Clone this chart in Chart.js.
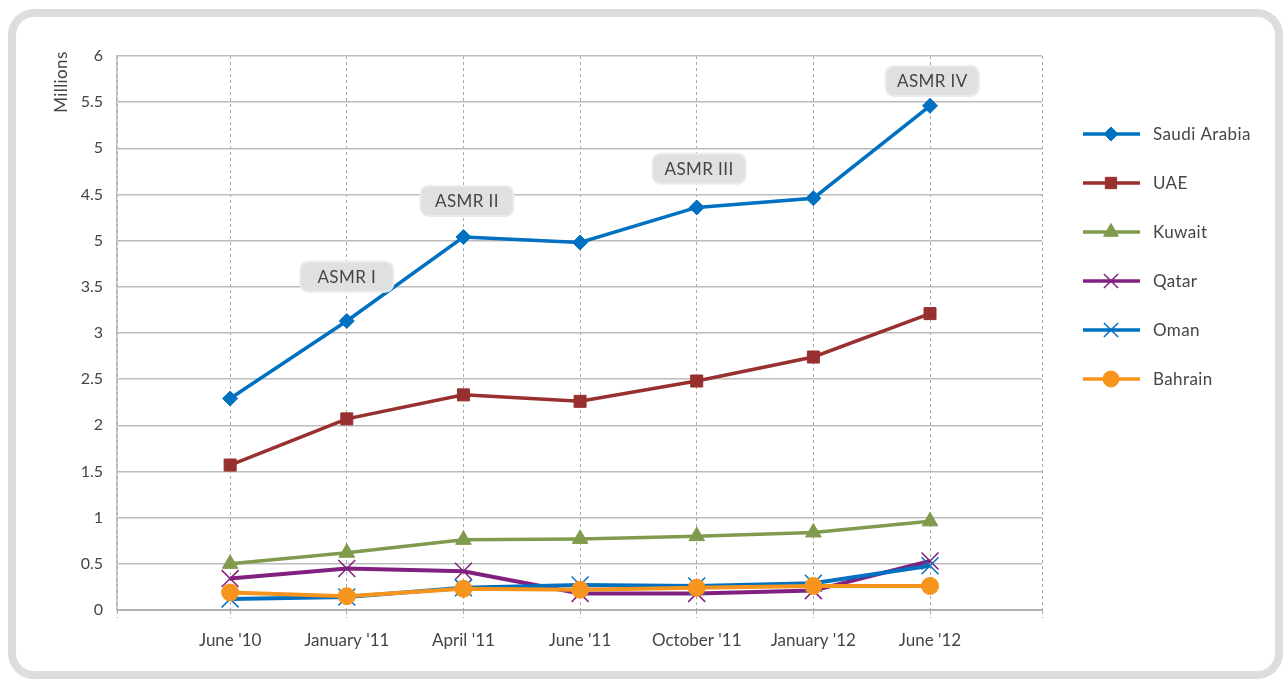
<!DOCTYPE html>
<html lang="en">
<head>
  <meta charset="UTF-8">
  <title>GCC users - ASMR</title>
  <script src="https://cdn.jsdelivr.net/npm/chart.js"></script>
  <style>
    html, body { margin: 0; padding: 0; background: #fff; }
    .frame { position: absolute; left: 8px; top: 9px; width: 1259px; height: 654px; border: 8px solid #dddddd; border-radius: 26px; }
    #chart { position: absolute; left: 0; top: 0; }
  </style>
</head>
<body>
  <div class="frame"></div>
  <canvas id="chart" width="1283" height="679"></canvas>

  <script>
    const categories = ["June '10", "January '11", "April '11", "June '11", "October '11", "January '12", "June '12"];
    const saudi   = [2.29, 3.13, 4.04, 3.98, 4.36, 4.46, 5.46];
    const uae     = [1.57, 2.07, 2.33, 2.26, 2.48, 2.74, 3.21];
    const kuwait  = [0.50, 0.62, 0.76, 0.77, 0.80, 0.84, 0.96];
    const qatar   = [0.34, 0.45, 0.42, 0.18, 0.18, 0.21, 0.53];
    const oman    = [0.12, 0.14, 0.24, 0.27, 0.26, 0.29, 0.48];
    const bahrain = [0.19, 0.15, 0.23, 0.22, 0.24, 0.26, 0.26];
    // tick labels as printed (the 4 mark reads "5" in the original)
    const yTickLabels = ['0', '0.5', '1', '1.5', '2', '2.5', '3', '3.5', '5', '4.5', '5', '5.5', '6'];
    // ASMR survey callouts, anchored in data units
    const asmrLabels = ['ASMR I', 'ASMR II', 'ASMR III', 'ASMR IV'];
    const asmrX = [1, 2.03, 4.02, 6.02];
    const asmrY = [3.61, 4.43, 4.78, 5.73];

    const FONT = 'Lato, "Open Sans", sans-serif';
    const TXT = '#454545';

    const series = [
      { label: 'Saudi Arabia', data: saudi,   color: '#0070c0', style: 'rectRot',  r: 7.5, bw: 1,   lw: 3.5 },
      { label: 'UAE',          data: uae,     color: '#98302f', style: 'rect',     r: 8.5, bw: 1,   lw: 3.5 },
      { label: 'Kuwait',       data: kuwait,  color: '#809a4e', style: 'triangle', r: 9,   bw: 1,   lw: 3.5 },
      { label: 'Qatar',        data: qatar,   color: '#80217f', style: 'crossRot', r: 12,  bw: 1.5, lw: 4 },
      { label: 'Oman',         data: oman,    color: '#0070c0', style: 'crossRot', r: 12,  bw: 1.5, lw: 4 },
      { label: 'Bahrain',      data: bahrain, color: '#f7941d', style: 'circle',   r: 8.5, bw: 1,   lw: 4 }
    ];

    const datasets = series.map((s, i) => ({
      label: s.label,
      data: s.data.map((v, k) => ({ x: k, y: v })),
      borderColor: s.color,
      backgroundColor: s.color,
      borderWidth: s.lw,
      pointStyle: s.style,
      pointRadius: s.r,
      pointBackgroundColor: s.color,
      pointBorderColor: s.color,
      pointBorderWidth: s.bw,
      tension: 0,
      order: series.length - i
    }));

    const extras = {
      id: 'extras',
      afterDraw(chart) {
        const ctx = chart.ctx;
        const xs = chart.scales.x, ys = chart.scales.y;
        ctx.save();
        ctx.letterSpacing = '0.4px';

        // axis title
        ctx.translate(62, 82);
        ctx.rotate(-Math.PI / 2);
        ctx.font = '17px ' + FONT;
        ctx.fillStyle = TXT;
        ctx.textAlign = 'center';
        ctx.textBaseline = 'middle';
        ctx.fillText('Millions', 0, 0);
        ctx.setTransform(1, 0, 0, 1, 0, 0);

        // callouts
        ctx.font = '17px ' + FONT;
        asmrLabels.forEach((t, i) => {
          const cx = xs.getPixelForValue(asmrX[i]);
          const cy = ys.getPixelForValue(asmrY[i]);
          const w = 93, h = 30;
          ctx.beginPath();
          ctx.roundRect(cx - w / 2, cy - h / 2, w, h, 8);
          ctx.fillStyle = '#dfe0e2';
          ctx.fill();
          ctx.lineWidth = 2;
          ctx.strokeStyle = '#ebebed';
          ctx.stroke();
          ctx.fillStyle = TXT;
          ctx.textAlign = 'center';
          ctx.textBaseline = 'middle';
          ctx.fillText(t, cx, cy + 1);
        });

        // legend
        series.forEach((s, i) => {
          const y = 134 + i * 49;
          ctx.beginPath();
          ctx.moveTo(1083, y);
          ctx.lineTo(1140, y);
          ctx.lineWidth = 3.5;
          ctx.strokeStyle = s.color;
          ctx.stroke();
          ctx.fillStyle = s.color;
          ctx.lineWidth = s.bw;
          Chart.helpers.drawPoint(ctx, { pointStyle: s.style, radius: s.style === 'crossRot' ? 10 : s.r - 0.5, borderWidth: s.bw }, 1111, y);
          ctx.font = '17px ' + FONT;
          ctx.fillStyle = TXT;
          ctx.textAlign = 'left';
          ctx.textBaseline = 'middle';
          ctx.fillText(s.label, 1153, y + 1);
        });
        ctx.restore();
      }
    };

    new Chart(document.getElementById('chart'), {
      type: 'line',
      data: { datasets },
      options: {
        responsive: false,
        animation: false,
        layout: { padding: { left: 0, top: 56, right: 241, bottom: 0 } },
        plugins: { legend: { display: false }, tooltip: { enabled: false } },
        scales: {
          x: {
            type: 'linear',
            min: -0.97, max: 6.96,
            afterFit(scale) { scale.height = 69; },
            ticks: {
              stepSize: 1, autoSkip: false, maxRotation: 0, padding: 12,
              color: TXT, font: { family: FONT, size: 17 },
              callback: v => categories[v] || ''
            },
            grid: { color: '#a9a9a9', lineWidth: 1, tickLength: 8, tickColor: '#a9a9a9', tickBorderDash: [3, 3] },
            border: { display: true, color: '#b0b0b0', width: 2, dash: [3, 3] }
          },
          y: {
            min: 0, max: 6,
            afterFit(scale) { scale.width = 117; },
            ticks: {
              stepSize: 0.5, padding: 14,
              color: TXT, font: { family: FONT, size: 16 },
              callback: (v) => yTickLabels[Math.round(v * 2)]
            },
            grid: { color: '#bcbcbc', lineWidth: 1.5, drawTicks: false },
            border: { display: true, color: '#bcbcbc', width: 1.5 }
          }
        }
      },
      plugins: [extras]
    });
  </script>
</body>
</html>
